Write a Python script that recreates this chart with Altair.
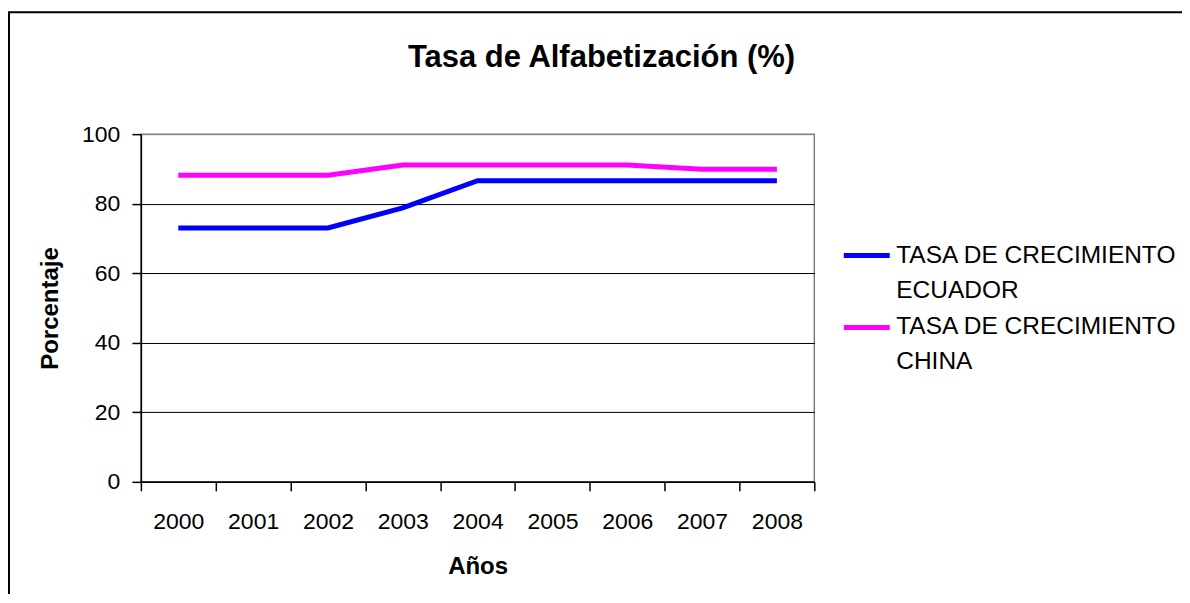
import altair as alt
import pandas as pd

years = ["2000", "2001", "2002", "2003", "2004", "2005", "2006", "2007", "2008"]
ecuador = [73.0, 73.0, 73.0, 78.8, 86.6, 86.6, 86.6, 86.6, 86.6]
china = [88.2, 88.2, 88.2, 91.1, 91.1, 91.1, 91.1, 89.9, 89.9]
series_names = ["TASA DE CRECIMIENTO ECUADOR", "TASA DE CRECIMIENTO CHINA"]
series_colors = ["#0000FF", "#FF00FF"]
y_ticks = [0, 20, 40, 60, 80, 100]

rows = []
for name, vals in zip(series_names, [ecuador, china]):
    for yr, v in zip(years, vals):
        rows.append({"year": yr, "value": v, "serie": name})
df = pd.DataFrame(rows)

FONT = "Liberation Sans"

lines = alt.Chart(df).mark_line(strokeWidth=5).encode(
    x=alt.X("year:N", sort=years,
            scale=alt.Scale(paddingInner=0, paddingOuter=0),
            axis=alt.Axis(title="Años", labelAngle=0, tickBand="extent",
                          domainColor="black", tickColor="black", tickSize=9,
                          labelPadding=20, titlePadding=21, grid=False)),
    y=alt.Y("value:Q", scale=alt.Scale(domain=[0, 100], nice=False),
            axis=alt.Axis(title="Porcentaje", values=y_ticks, tickSize=9,
                          domainColor="black", tickColor="black",
                          labelPadding=12, titlePadding=19,
                          gridColor={"condition": {"test": "datum.value === 100", "value": "#808080"}, "value": "black"},
                          gridOpacity=1)),
    color=alt.Color("serie:N", sort=series_names,
                    scale=alt.Scale(domain=series_names, range=series_colors),
                    legend=alt.Legend(title=None, orient="none", legendX=701, legendY=96,
                                      symbolType="stroke", symbolStrokeWidth=5,
                                      symbolSize=2116, rowPadding=-7,
                                      labelExpr="['TASA DE CRECIMIENTO', replace(datum.label, 'TASA DE CRECIMIENTO ', '')]",
                                      labelBaseline="middle", labelOffset=4)),
)

frame_left = alt.Chart(pd.DataFrame({"k": [0]})).mark_rule(color="black", strokeWidth=2).encode(
    x=alt.value(-132), y=alt.value(-122), y2=alt.value(470))
frame_top = alt.Chart(pd.DataFrame({"k": [0]})).mark_rule(color="black", strokeWidth=2).encode(
    x=alt.value(-133), x2=alt.value(1100), y=alt.value(-122))

chart = alt.layer(frame_left, frame_top, lines).properties(
    width=674, height=348,
    background="white",
    autosize=alt.AutoSizeParams(type="none"),
    padding={"left": 133, "top": 126, "right": 368, "bottom": 112},
    title=alt.TitleParams("Tasa de Alfabetización (%)", font=FONT, fontSize=31,
                          fontWeight="bold", color="black", anchor="middle",
                          frame="group", dx=124, offset=-87, baseline="alphabetic"),
).configure(
    style={"guide-label": {"lineHeight": 35}}
).configure_view(stroke="#808080", strokeWidth=1.5).configure_axis(
    labelFont=FONT, labelFontSize=23, labelColor="black",
    titleFont=FONT, titleFontSize=24, titleFontWeight="bold", titleColor="black",
    gridColor="black", domainWidth=1.5, tickWidth=1.5,
).configure_legend(
    labelFont=FONT, labelFontSize=24.5, labelColor="black", labelLimit=400,
)

chart.save("out.html", embed_options={"renderer": "svg", "actions": False})
